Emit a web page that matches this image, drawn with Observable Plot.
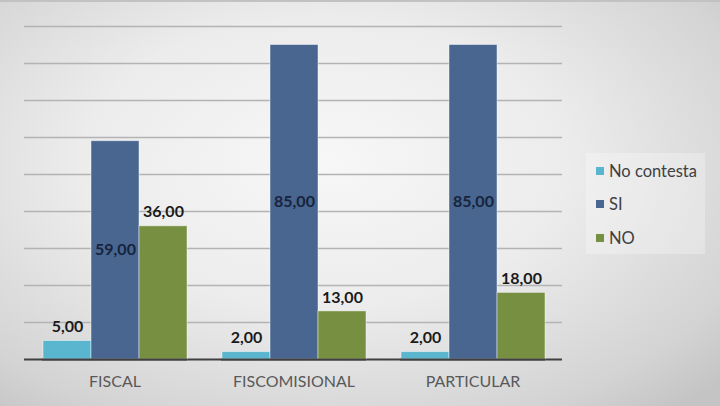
<!DOCTYPE html>
<html>
<head>
<meta charset="utf-8">
<script src="https://cdn.jsdelivr.net/npm/d3@7"></script>
<script src="https://cdn.jsdelivr.net/npm/@observablehq/plot@0.6"></script>
<style>
  html, body { margin: 0; padding: 0; }
  #wrap {
    position: relative; width: 720px; height: 406px; overflow: hidden;
    background: radial-gradient(ellipse 75% 80% at 45% 40%, #f7f7f7 0%, #ececec 45%, #d3d3d3 85%, #c4c4c4 100%);
    font-family: Lato, "Open Sans", sans-serif;
    border-top: 2px solid #c2c2c2; box-sizing: border-box;
  }
  .layer { position: absolute; left: 0; top: -2px; }
  #legend {
    position: absolute; left: 586px; top: 151px; width: 119px; height: 101px;
    background: rgba(255,255,255,0.28);
    box-sizing: border-box; padding: 1px 0 0 10px;
  }
  .item { display: flex; align-items: center; height: 33.5px; font-size: 16.5px; color: #404040; }
  .sw { width: 8px; height: 8px; margin-right: 5px; }
</style>
</head>
<body>
<div id="wrap">
  <div id="grid" class="layer"></div>
  <div id="chart" class="layer"></div>
  <div id="legend"></div>
</div>
<script>
const categories = ["FISCAL", "FISCOMISIONAL", "PARTICULAR"];
const series = ["No contesta", "SI", "NO"];
const noContesta = [5, 2, 2];
const si = [59, 85, 85];
const no = [36, 13, 18];
const gridValues = [10, 20, 30, 40, 50, 60, 70, 80, 90];
const colors = ["#5ab5cf", "#48668f", "#778f40"];

const values = {"No contesta": noContesta, "SI": si, "NO": no};
const rows = [];
categories.forEach((c, i) => series.forEach(s => rows.push({category: c, series: s, value: values[s][i]})));
const fmt = d => d.value.toFixed(2).replace(".", ",");

const common = {
  width: 720, height: 406,
  marginLeft: 24, marginRight: 158, marginTop: 26, marginBottom: 47,
  style: {background: "transparent", fontFamily: "Lato, 'Open Sans', sans-serif", overflow: "visible"},
  y: {domain: [0, 90], axis: null}
};

const gridPlot = Plot.plot({
  ...common,
  marks: [
    Plot.ruleY(gridValues, {stroke: "#b3b3b3", strokeWidth: 1.5}),
    Plot.ruleY([0], {stroke: "#404040", strokeWidth: 2})
  ]
});
document.getElementById("grid").appendChild(gridPlot);

const plot = Plot.plot({
  ...common,
  fx: {domain: categories, paddingInner: 0.19, paddingOuter: 0.09, axis: null, label: null},
  x: {domain: series, axis: null, padding: 0},
  color: {domain: series, range: colors},
  marks: [
    Plot.barY(rows, {fx: "category", x: "series", y: "value", fill: "series", stroke: "#ffffff", strokeOpacity: 0.45, strokeWidth: 1}),
    Plot.ruleY([0], {stroke: "#404040", strokeWidth: 2}),
    Plot.text(rows.filter(d => d.series === "SI"), {fx: "category", x: "series", y: d => d.value / 2, text: fmt, fill: "#17233d", fontSize: 16, fontWeight: "bold"}),
    Plot.text(rows.filter(d => d.series !== "SI"), {fx: "category", x: "series", y: "value", dy: -14, text: fmt, fill: "#1a1a1a", fontSize: 16, fontWeight: "bold"}),
    Plot.axisFx({anchor: "bottom", tickSize: 0, tickPadding: 16, fontSize: 16, fill: "#595959", label: null})
  ]
});
document.getElementById("chart").appendChild(plot);

const legend = document.getElementById("legend");
series.forEach((s, i) => {
  const item = document.createElement("div");
  item.className = "item";
  const sw = document.createElement("span");
  sw.className = "sw";
  sw.style.background = colors[i];
  const label = document.createElement("span");
  label.textContent = s;
  item.appendChild(sw); item.appendChild(label);
  legend.appendChild(item);
});
</script>
</body>
</html>
